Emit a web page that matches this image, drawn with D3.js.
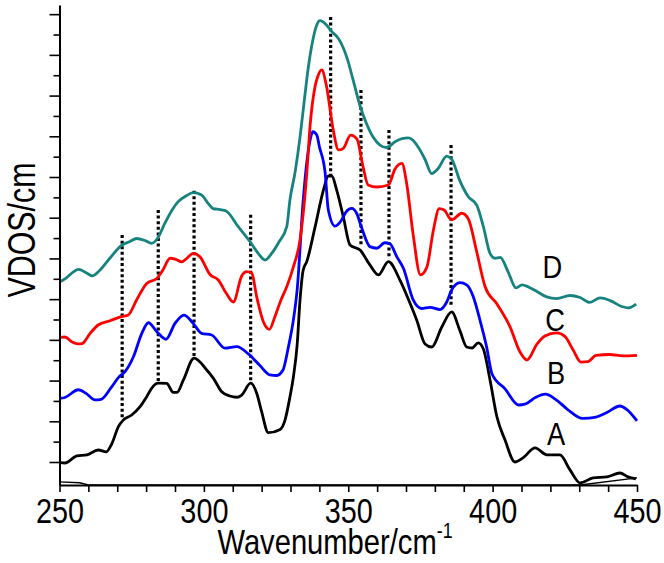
<!DOCTYPE html>
<html><head><meta charset="utf-8">
<script src="https://cdn.jsdelivr.net/npm/d3@7/dist/d3.min.js"></script>
<style>body{margin:0;background:#fff}</style>
</head><body><svg id="c" width="664" height="563"></svg>
<script>
// ---- data (wavenumber in cm^-1, VDOS in arbitrary tick units) ----
const seriesNames = ["A","B","C","D"];
const seriesColors = ["#000000","#0000ff","#ff0000","#17837f"];

const aWn  = [250.0,251.9,256.0,259.5,263.4,266.2,268.1,270.4,272.1,275.0,277.9,280.2,282.0,284.2,287.1,289.4,290.7,292.9,296.6,301.0,303.3,306.2,309.0,311.4,313.1,316.2,318.3,320.0,322.3,326.4,328.1,329.8,331.0,332.3,333.3,334.4,335.6,338.5,341.4,343.1,344.3,346.0,348.3,350.6,354.1,357.5,360.4,363.9,367.9,371.4,373.7,376.6,378.9,382.4,385.8,388.7,391.0,392.9,395.0,396.8,399.1,401.5,404.3,407.7,410.5,414.7,418.8,423.3,426.8,430.3,434.8,439.6,444.1,446.9,449.6];
const aVal = [0.98,0.95,1.30,1.35,1.59,1.50,1.89,2.74,3.06,3.31,3.72,4.21,4.64,4.87,4.86,4.42,4.42,5.03,6.10,5.52,5.11,4.45,4.24,4.18,4.29,4.87,4.38,3.47,2.44,2.60,3.06,4.19,5.18,6.75,8.96,10.43,10.83,12.54,14.36,15.05,15.05,14.36,13.04,11.66,11.41,10.68,10.19,10.84,9.94,8.80,7.98,6.80,6.65,7.63,8.37,7.44,6.65,6.60,6.85,6.55,5.03,3.21,2.08,1.00,1.20,1.69,1.35,1.35,0.61,-0.03,0.22,0.27,0.46,0.27,0.17];

const bWn  = [250.0,251.9,256.5,259.2,262.3,264.4,267.8,270.6,272.7,275.6,278.5,280.8,283.7,286.9,290.0,293.1,296.3,299.2,302.7,307.3,311.4,315.4,319.4,322.9,325.2,327.4,329.2,331.0,332.3,334.4,335.0,336.8,337.7,339.1,340.0,342.0,343.1,345.4,347.7,349.2,351.2,352.9,354.7,357.5,359.9,362.7,364.5,366.8,369.1,372.5,375.4,378.3,381.8,384.1,385.8,388.7,391.0,393.3,395.6,397.9,399.8,404.3,409.0,411.2,414.8,418.3,421.8,425.9,431.2,435.8,439.4,444.1,446.4,450.0];
const bVal = [4.12,4.17,4.55,4.37,4.05,4.08,4.64,5.18,5.44,6.17,7.32,7.84,7.40,7.03,7.81,8.22,7.81,7.32,7.24,6.59,6.67,6.31,5.74,5.28,5.25,5.52,6.60,7.98,9.45,13.87,14.85,16.82,17.23,17.06,16.49,15.20,13.38,12.59,12.89,13.28,13.46,13.22,12.48,11.58,11.50,11.77,11.71,11.09,10.52,8.96,8.54,8.60,8.49,8.86,9.45,9.81,9.70,9.12,7.98,6.67,5.32,4.59,3.80,3.84,4.17,4.33,4.08,3.59,3.14,3.21,3.42,3.75,3.59,3.02];

const cWn  = [250.0,251.9,254.2,256.4,257.8,260.6,263.4,267.5,271.5,273.8,276.7,280.2,283.7,285.8,288.3,290.3,292.3,294.2,296.3,298.7,302.1,305.0,307.9,310.2,313.1,314.8,316.6,318.3,320.6,322.7,324.6,326.7,328.7,331.0,333.3,335.6,336.8,338.5,339.5,340.8,342.5,344.8,346.6,348.3,350.8,353.0,355.0,356.9,359.9,363.9,366.2,368.6,370.2,372.5,375.0,377.2,379.5,381.5,383.2,385.8,389.3,391.6,394.5,397.4,401.5,406.0,409.5,411.9,415.4,418.1,422.2,425.1,427.9,430.6,433.0,435.8,440.5,445.1,450.0];
const cVal = [7.12,7.14,6.91,6.80,6.82,7.32,7.73,7.94,8.14,8.22,8.96,9.77,10.02,10.43,11.01,10.95,10.83,11.02,11.25,11.07,10.21,9.94,9.25,8.86,10.14,10.35,10.27,9.11,7.89,7.52,8.14,8.96,9.61,10.59,11.91,15.10,17.55,19.44,19.96,20.26,19.44,17.31,16.33,16.41,17.06,16.87,15.59,14.61,14.51,14.61,15.39,15.67,14.71,12.15,10.19,10.56,12.40,13.45,13.38,12.89,13.22,12.94,11.32,9.61,8.76,7.65,6.40,6.01,6.80,7.19,7.34,7.16,6.50,5.91,5.93,6.24,6.28,6.21,6.24];

const dWn  = [250.0,252.5,254.7,256.6,259.4,261.4,263.7,267.5,271.5,274.4,276.7,279.6,281.9,283.9,286.5,289.0,291.1,293.8,296.3,299.2,301.4,303.2,305.6,307.7,311.9,316.0,318.8,321.2,323.6,326.0,328.7,329.8,331.6,333.3,334.4,336.2,337.4,339.1,340.2,342.3,344.3,346.6,348.3,349.6,351.7,354.1,356.1,358.6,361.0,363.3,366.2,368.6,370.8,372.5,374.2,376.6,378.9,381.2,384.1,385.8,388.7,391.6,394.5,396.8,399.1,400.8,402.6,405.4,408.1,410.2,412.4,415.3,418.7,422.2,426.8,430.3,433.7,437.2,440.7,444.7,447.0,449.7];
const dVal = [9.84,10.06,10.33,10.46,10.28,10.14,10.38,11.02,11.64,11.83,11.98,11.88,11.74,11.98,12.73,13.38,13.79,14.07,14.23,14.12,13.72,13.45,13.40,13.33,12.56,11.82,11.25,10.92,11.27,11.81,12.56,13.87,15.25,16.96,18.29,20.42,21.48,22.47,22.68,22.49,22.14,21.81,21.34,20.84,19.76,18.49,17.70,16.96,16.57,16.45,16.73,16.89,16.92,16.79,16.47,15.86,15.17,15.43,16.03,15.88,14.80,14.03,13.62,12.56,11.25,11.01,11.05,10.33,9.55,9.70,9.60,9.38,9.11,9.03,9.18,9.08,8.84,9.06,8.93,8.64,8.57,8.76];

// faint baseline trace lying on the x axis
const baseWn  = [250,257,260,430.3,450];
const baseVal = [0.02,-0.02,-0.13,-0.13,0.22];

// dotted guide lines
const dotWn     = [271.7,284.2,296.6,316.2,343.9,354.4,364.1,385.6];
const dotTop    = [12.15,13.38,14.33,13.14,22.86,19.27,17.31,16.57];
const dotBottom = [3.16,4.93,6.16,4.93,14.96,11.56,11.00,8.61];

// curve letter labels (anchor in data units)
const labelWn  = [422.0,422.0,421.6,420.7];
const labelVal = [1.84,4.84,7.44,10.04];

const xTicks = d3.range(250,451,10);
const xLabelTicks = [250,300,350,400,450];
const yTicks = d3.range(1,24);

const xTitle = "Wavenumber/cm";
const xTitleSup = "-1";
const yTitle = "VDOS/cm";

// ---- drawing ----
const svg = d3.select("#c");
const x = d3.scaleLinear().domain([250,450]).range([59.5,637]);
const y = d3.scaleLinear().domain([-0.13,23.45]).range([485,5]);
const FONT = "'Liberation Sans', Arial, sans-serif";

// dotted lines (drawn under curves)
svg.append("g").selectAll("line").data(dotWn).join("line")
  .attr("x1",d=>x(d)).attr("x2",d=>x(d))
  .attr("y1",(d,i)=>y(dotTop[i])).attr("y2",(d,i)=>y(dotBottom[i]))
  .attr("stroke","#000").attr("stroke-width",3.2)
  .attr("stroke-dasharray","3,2.6");

const line = d3.line().x(d=>x(d[0])).y(d=>y(d[1])).curve(d3.curveMonotoneX);

svg.append("path").datum(baseWn.map((w,i)=>[w,baseVal[i]]))
  .attr("d",d3.line().x(d=>x(d[0])).y(d=>y(d[1])))
  .attr("fill","none").attr("stroke","#000").attr("stroke-width",1.3);

const series = [[aWn,aVal],[bWn,bVal],[cWn,cVal],[dWn,dVal]];
series.forEach((s,k)=>{
  svg.append("path").datum(s[0].map((w,i)=>[w,s[1][i]]))
    .attr("d",line).attr("fill","none")
    .attr("stroke",seriesColors[k]).attr("stroke-width",2.8)
    .attr("stroke-linejoin","round");
});

// axes
const xAxis = svg.append("g").attr("transform","translate(0,485)")
  .call(d3.axisBottom(x).tickValues(xTicks).tickSize(7).tickSizeOuter(0)
    .tickFormat(d=> xLabelTicks.includes(d) ? d : ""));
xAxis.select(".domain").attr("stroke-width",2);
xAxis.selectAll(".tick line").attr("stroke-width",1.6);
xAxis.selectAll(".tick text").attr("font-family",FONT).attr("font-size",36)
  .attr("fill","#000").attr("y",38).attr("dy",0)
  .attr("transform","scale(0.8,1)");

const yAxis = svg.append("g").attr("transform","translate(59.5,0)")
  .call(d3.axisLeft(y).tickValues(yTicks).tickSize(7).tickSizeOuter(0).tickFormat(""));
yAxis.select(".domain").attr("stroke-width",2);
yAxis.selectAll(".tick line").attr("stroke-width",1.6)
  .attr("x2",d=> d%2===1 ? -10 : -6);

// axis titles
const xt = svg.append("text").attr("font-family",FONT).attr("font-size",36)
  .attr("text-anchor","middle").attr("fill","#000")
  .attr("transform","translate(335,554) scale(0.81,1)");
xt.append("tspan").text(xTitle);
xt.append("tspan").attr("font-size",22).attr("dy",-16).text(xTitleSup);

svg.append("text").attr("font-family",FONT).attr("font-size",38)
  .attr("text-anchor","middle").attr("fill","#000")
  .attr("transform","translate(35,230) rotate(-90) scale(0.8,1)")
  .text(yTitle);

// curve labels
svg.append("g").selectAll("text").data(seriesNames).join("text")
  .attr("font-family",FONT).attr("font-size",31).attr("fill","#000")
  .attr("text-anchor","middle")
  .attr("transform",(d,i)=>`translate(${x(labelWn[i])},${y(labelVal[i])}) scale(0.88,1)`)
  .text(d=>d);
</script></body></html>
